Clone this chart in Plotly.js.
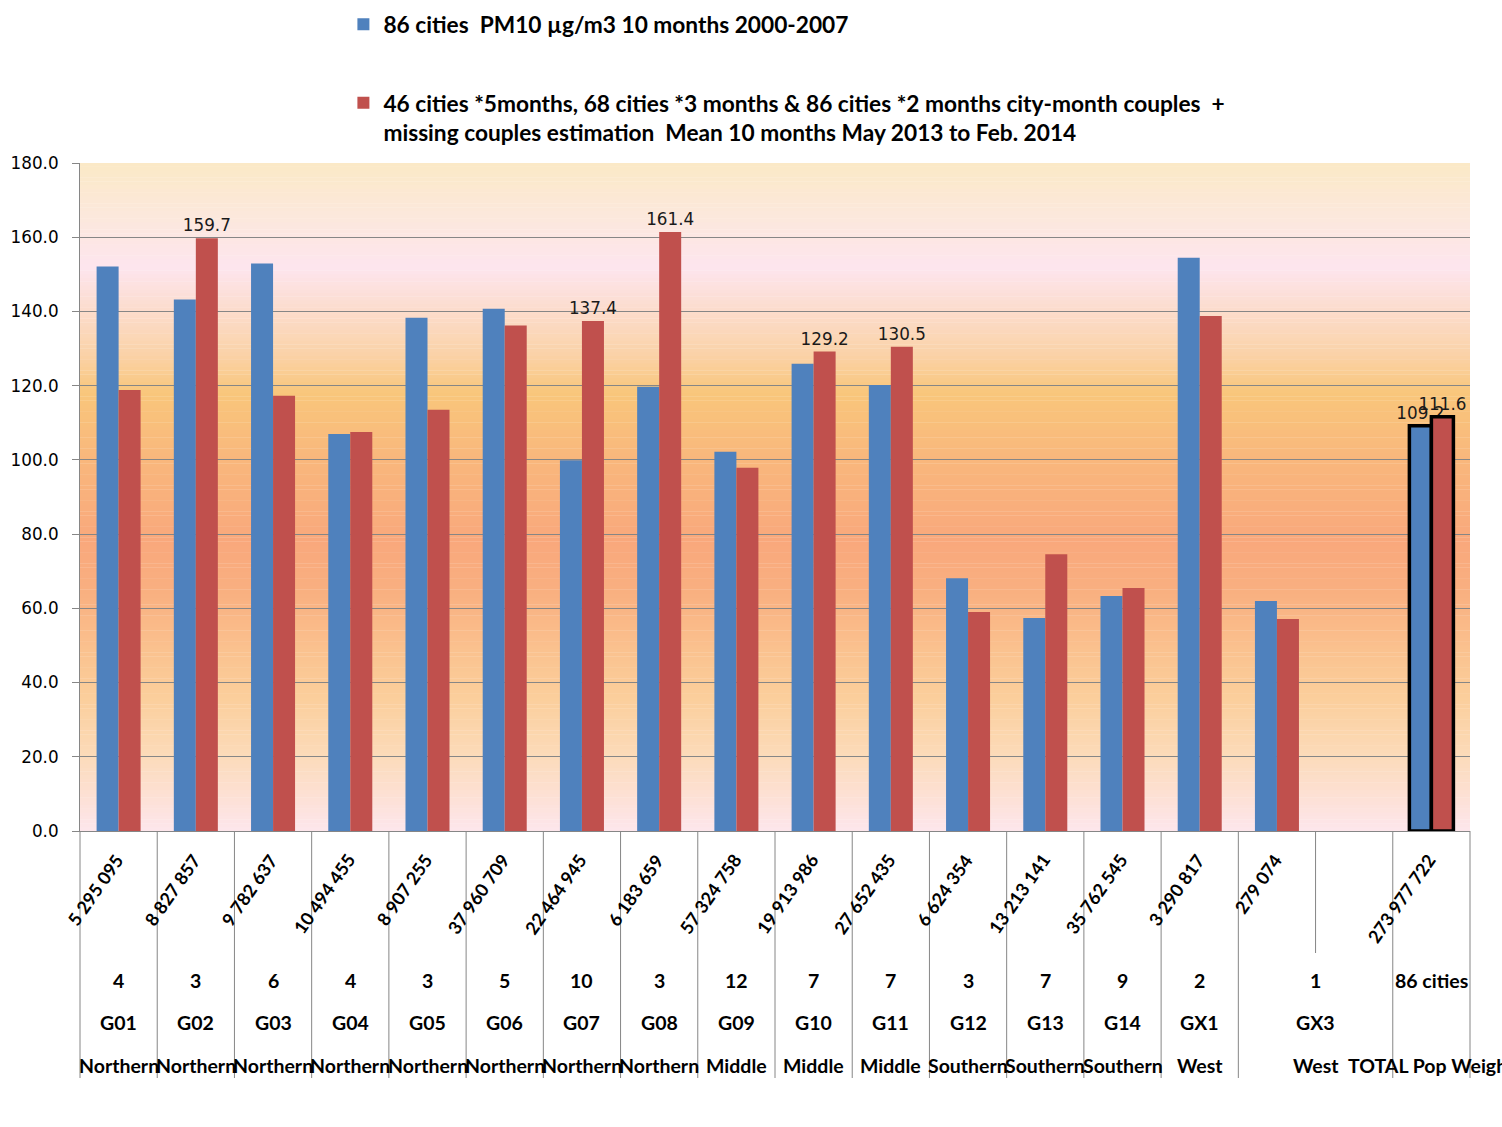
<!DOCTYPE html>
<html>
<head>
<meta charset="utf-8">
<script src="https://cdn.plot.ly/plotly-3.0.1.min.js"></script>
<style>
  html, body { margin: 0; padding: 0; background: #ffffff; }
  #chart { width: 1502px; height: 1127px; }
</style>
</head>
<body>
<div id="chart"></div>
<script>
// ---------------- DATA ----------------
const categories = ['G01','G02','G03','G04','G05','G06','G07','G08','G09','G10','G11','G12','G13','G14','GX1','GX3',' ','TOTAL'];

const seriesNames = [
  '86 cities  PM10 µg/m3 10 months 2000-2007',
  '46 cities *5months, 68 cities *3 months & 86 cities *2 months city-month couples  +<br>missing couples estimation  Mean 10 months May 2013 to Feb. 2014'
];

const pm10_2000_2007 = [152.1, 143.2, 152.9, 107.0, 138.3, 140.7, 99.9, 119.7, 102.2, 125.9, 120.2, 68.1, 57.4, 63.3, 154.5, 62.0, null, 109.2];
const pm10_2013_2014 = [118.8, 159.7, 117.3, 107.5, 113.5, 136.2, 137.4, 161.4, 97.9, 129.2, 130.5, 59.0, 74.6, 65.5, 138.8, 57.1, null, 111.6];

// bars that carry a value label
const labelIdx2000 = [17];
const labelIdx2013 = [1, 6, 7, 9, 10, 17];

// multi-level category labels (null = merged with previous column)
const populationLabels = ['5 295 095','8 827 857','9 782 637','10 494 455','8 907 255','37 960 709','22 464 945','6 183 659','57 324 758','19 913 986','27 652 435','6 624 354','13 213 141','35 762 545','3 290 817','279 074','','273 977 722'];
const cityCountLabels = ['4','3','6','4','3','5','10','3','12','7','7','3','7','9','2','1',null,'86 cities'];
const groupLabels = ['G01','G02','G03','G04','G05','G06','G07','G08','G09','G10','G11','G12','G13','G14','GX1','GX3',null,''];
const regionLabels = ['Northern','Northern','Northern','Northern','Northern','Northern','Northern','Northern','Middle','Middle','Middle','Southern','Southern','Southern','West','West',null,'TOTAL Pop Weight'];

const yTicks = [0, 20, 40, 60, 80, 100, 120, 140, 160, 180];

// ---------------- STYLE ----------------
const BLUE = '#4F81BD';
const RED = '#C0504D';
const GRID = '#868686';
const nCat = categories.length;

const bgStops = [
  [0,'#FDE6EC'],[8,'#FDE1D8'],[20,'#FCDBBA'],[35,'#FBCF9D'],[50,'#FAC08D'],
  [65,'#F9AF80'],[78,'#F9A87C'],[100,'#F9B77C'],[118,'#F9C67B'],[128,'#FAD2A6'],
  [140,'#FCDCCC'],[152,'#FDE5EE'],[167,'#FCE8DA'],[180,'#FBE9C6']
];
function hexToRgb(h){ return [parseInt(h.substr(1,2),16),parseInt(h.substr(3,2),16),parseInt(h.substr(5,2),16)]; }
function colorAt(v){
  for (let i=0;i<bgStops.length-1;i++){
    const a=bgStops[i], b=bgStops[i+1];
    if (v>=a[0] && v<=b[0]){
      const t=(v-a[0])/(b[0]-a[0]);
      const ca=hexToRgb(a[1]), cb=hexToRgb(b[1]);
      const c=ca.map((x,k)=>Math.round(x+(cb[k]-x)*t));
      return 'rgb('+c.join(',')+')';
    }
  }
  return bgStops[bgStops.length-1][1];
}

const shapes = [];
// background gradient bands
for (let v=0; v<180; v+=1){
  shapes.push({type:'rect', xref:'paper', yref:'y', x0:0, x1:1, y0:v, y1:Math.min(v+1.1,180),
    fillcolor: colorAt(v+0.5), line:{width:0}, layer:'below'});
}

// rows (paper y, measured in px below the plot bottom)
const H = 668;
const pxToPaper = px => -px / H;
const ROW_POP_TOP = pxToPaper(16);
const ROW_COUNT = pxToPaper(149);
const ROW_GROUP = pxToPaper(191.5);
const ROW_REGION = pxToPaper(234);
const SEP_BOTTOM = pxToPaper(247);
const SEP_SHORT = pxToPaper(122);

// category separators below the axis
for (let b=0; b<=nCat; b++){
  const merged = (b < nCat && cityCountLabels[b] === null);
  shapes.push({type:'line', xref:'paper', yref:'paper', x0:b/nCat, x1:b/nCat, y0:0,
    y1: merged ? SEP_SHORT : SEP_BOTTOM, line:{color:GRID, width:1}});
}

const annotations = [];
const labelFont = {family:'Lato, sans-serif', size:19.5, color:'#000000', weight:'bold'};

populationLabels.forEach((t,i)=>{
  if (!t) return;
  annotations.push({xref:'x', yref:'paper', x:i+0.15, y:ROW_POP_TOP, text:t, showarrow:false,
    textangle:-55, xanchor:'right', yanchor:'top', font:{family:'Lato, sans-serif', size:18, color:'#000', weight:'bold'}});
});

function addRow(arr, yPos){
  arr.forEach((t,i)=>{
    if (t === null || t === '') return;
    let j=i;
    while (j+1<arr.length && arr[j+1]===null) j++;
    annotations.push({xref:'x', yref:'paper', x:(i+j)/2, y:yPos, text:t, showarrow:false,
      xanchor:'center', yanchor:'middle', font:labelFont});
  });
}
addRow(cityCountLabels, ROW_COUNT);
addRow(groupLabels, ROW_GROUP);
addRow(regionLabels, ROW_REGION);

function labels(values, idx){
  return values.map((v,i)=> (idx.indexOf(i)>=0 && v!==null) ? v.toFixed(1) : '');
}
function outline(values){
  return values.map((v,i)=> i===values.length-1 ? 3.5 : 0);
}

const valueFont = {family:'DejaVu Sans, sans-serif', size:16.8, color:'#1a1a1a'};
const traces = [
  {type:'bar', name:seriesNames[0], x:categories, y:pm10_2000_2007, legendgroup:'a',
   marker:{color:BLUE, line:{color:'#000000', width:outline(pm10_2000_2007)}},
   text:labels(pm10_2000_2007, labelIdx2000), textposition:'outside', constraintext:'none', cliponaxis:false,
   textfont:valueFont, hoverinfo:'x+y'},
  {type:'bar', name:seriesNames[1], x:categories, y:pm10_2013_2014, legendgroup:'b',
   marker:{color:RED, line:{color:'#000000', width:outline(pm10_2013_2014)}},
   text:labels(pm10_2013_2014, labelIdx2013), textposition:'outside', constraintext:'none', cliponaxis:false,
   textfont:valueFont, hoverinfo:'x+y'}
];

const layout = {
  width:1502, height:1127,
  margin:{l:80, r:32, t:163, b:296, pad:0, autoexpand:false},
  paper_bgcolor:'#ffffff', plot_bgcolor:'rgba(0,0,0,0)',
  barmode:'group', bargap:0.43, bargroupgap:0,
  showlegend:true,
  legend:{x:0.1895, xanchor:'left', y:1.2395, yanchor:'top', orientation:'v', valign:'top',
    traceorder:'grouped', tracegroupgap:46, bgcolor:'rgba(0,0,0,0)',
    font:{family:'Lato, sans-serif', size:22.7, color:'#000000', weight:'bold'}},
  xaxis:{type:'category', categoryorder:'array', categoryarray:categories, range:[-0.5, nCat-0.5],
    showticklabels:false, ticks:'', showgrid:false, zeroline:false,
    showline:true, linecolor:GRID, linewidth:1, fixedrange:true},
  yaxis:{range:[0,180], tickvals:yTicks, tickformat:'.1f', showgrid:true, gridcolor:GRID, gridwidth:1,
    zeroline:false, showline:true, linecolor:GRID, linewidth:1, ticks:'outside', ticklen:7, tickcolor:GRID,
    ticklabelstandoff:10,
    tickfont:{family:'DejaVu Sans, sans-serif', size:16.8, color:'#000000'}, fixedrange:true},
  shapes:shapes,
  annotations:annotations
};

Plotly.newPlot('chart', traces, layout, {displayModeBar:false, staticPlot:true});
</script>
</body>
</html>
